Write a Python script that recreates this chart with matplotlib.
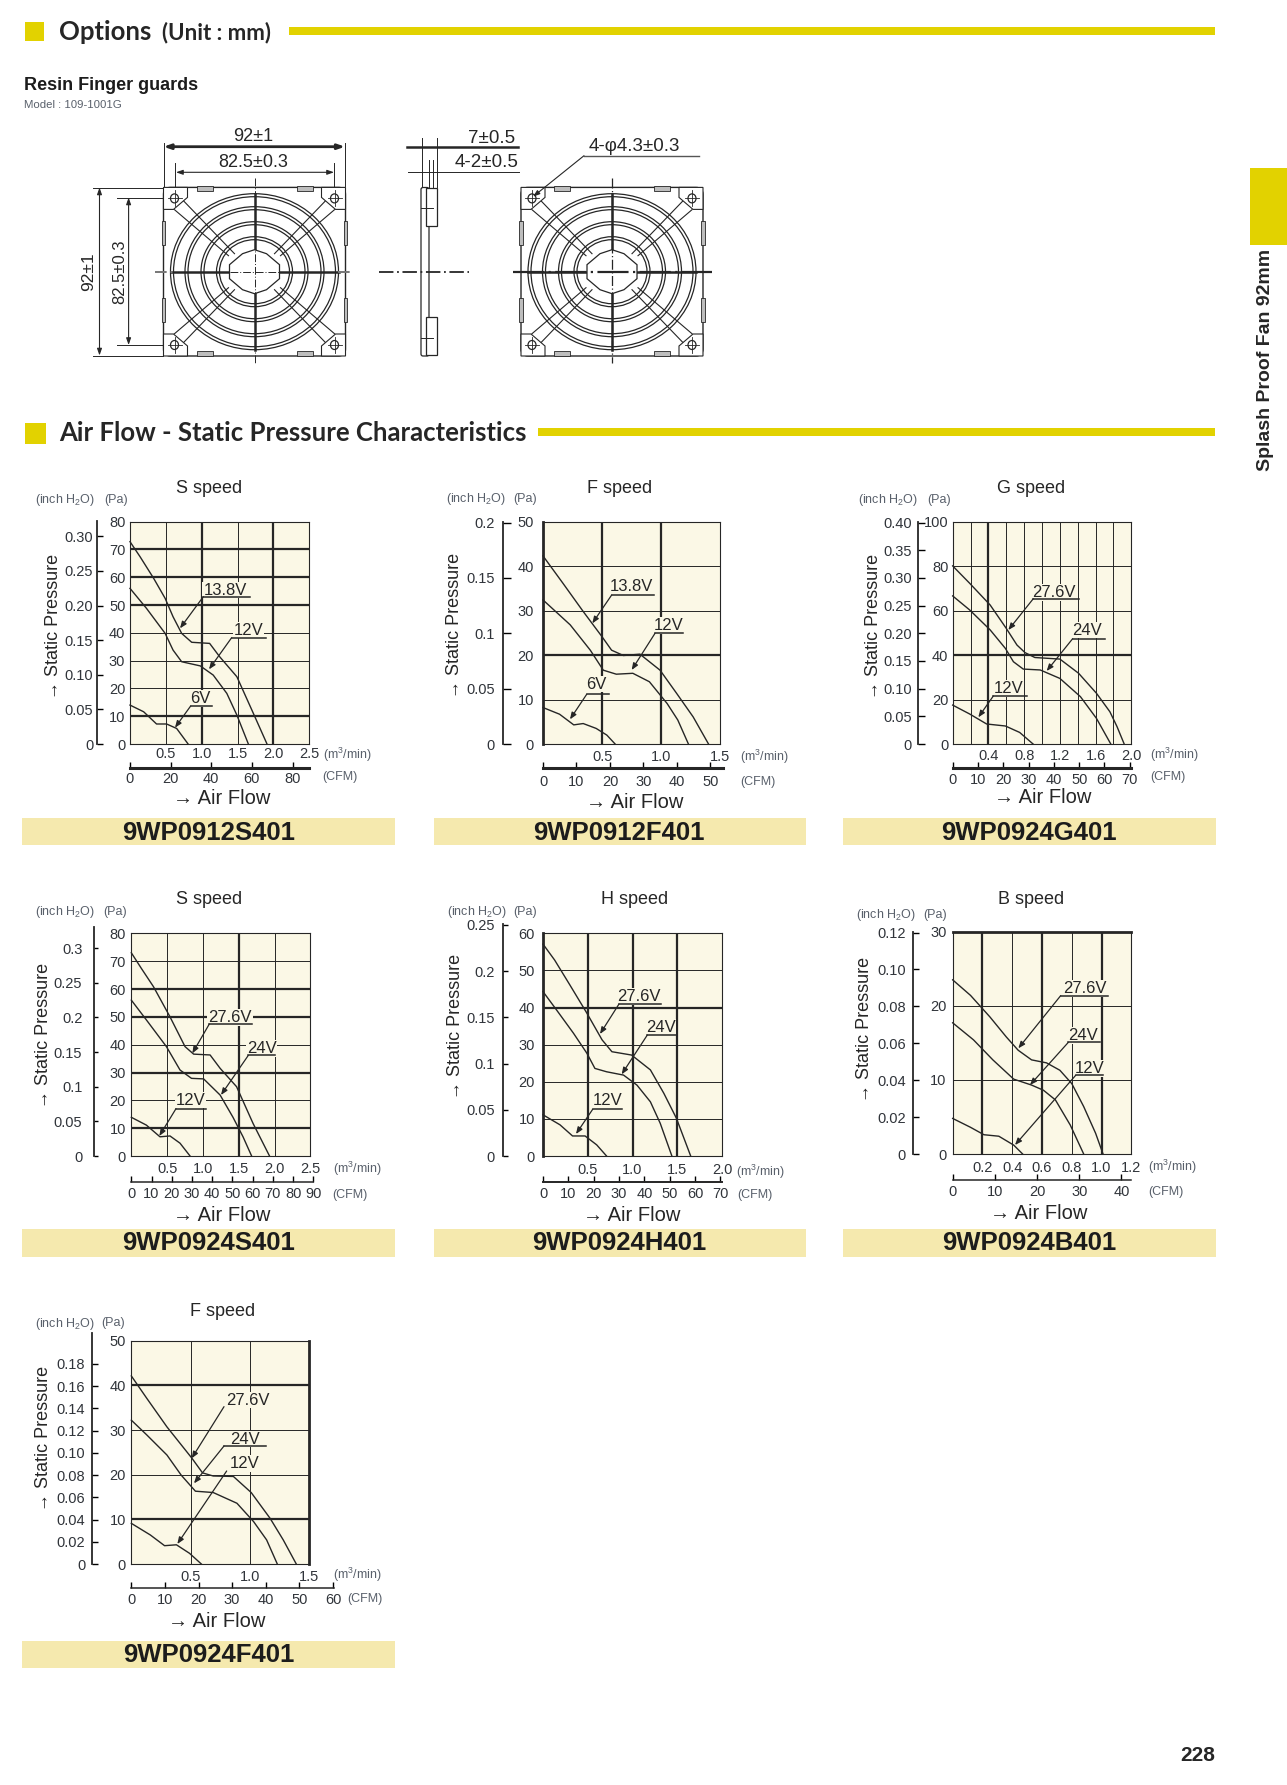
import matplotlib
matplotlib.use("Agg")
import matplotlib.pyplot as plt
from matplotlib.patches import Ellipse, FancyBboxPatch, Polygon, Rectangle

W, H = 1287, 1785
INK = "#262626"
GREY = "#59606b"
CREAM = "#fbf8e6"
YELLOW = "#e2d200"
BAND = "#f5e9ae"

# 9WP0912S401
S12_FLOW_HI = [0, .14, .33, .49, .60, .72, .86, 1.11, 1.25, 1.49, 1.72, 1.91]
S12_PA_HI = [72.8, 67.4, 59.6, 52.4, 45.8, 39.8, 36.6, 36.2, 31.4, 24.2, 11, 0]
S12_FLOW_MID = [0, .23, .49, .60, .72, .98, 1.16, 1.35, 1.49, 1.65]
S12_PA_MID = [56, 48.8, 39.8, 33.8, 29.6, 28.1, 24.8, 18.2, 10.4, 0]
S12_FLOW_LOW = [0, .19, .37, .51, .65, .81]
S12_PA_LOW = [14, 11.6, 7.2, 7.2, 5.6, 0]

# 9WP0912F401
F12_FLOW_HI = [0, .17, .34, .50, .58, .68, .82, .99, 1.13, 1.27, 1.40]
F12_PA_HI = [42.3, 36.1, 29.8, 24.1, 21.1, 19.9, 20.2, 16.6, 11.4, 6.1, 0]
F12_FLOW_MID = [0, .23, .40, .51, .62, .76, .90, 1.05, 1.14, 1.23]
F12_PA_MID = [32.4, 26.8, 21.1, 16.6, 15.7, 15.9, 14, 9.1, 5.4, 0]
F12_FLOW_LOW = [0, .14, .26, .34, .45, .54, .61]
F12_PA_LOW = [8.2, 6.7, 4.3, 4.6, 3.5, 2, 0]

# 9WP0924G401
G24_FLOW_HI = [0, .19, .42, .60, .72, .81, .92, 1.20, 1.41, 1.61, 1.76, 1.84, 1.92]
G24_PA_HI = [80.1, 72.3, 62.5, 52, 44.5, 41.1, 38.9, 38.2, 31.8, 22.8, 14.5, 7.8, 0]
G24_FLOW_MID = [0, .19, .42, .59, .68, .79, .98, 1.20, 1.43, 1.61, 1.77]
G24_PA_MID = [66.6, 60.3, 51.3, 43, 37, 33.7, 33.3, 29.5, 21.3, 11.5, 0]
G24_FLOW_LOW = [0, .19, .38, .59, .75, .90]
G24_PA_LOW = [17.5, 13.5, 9, 8.1, 5.2, 0]

# 9WP0924S401
S24_FLOW_HI = [0, .14, .31, .54, .75, .87, 1.10, 1.24, 1.47, 1.70, 1.93]
S24_PA_HI = [73, 67.4, 60.8, 50, 39.3, 36.6, 36.3, 31.5, 24.9, 11.7, 0]
S24_FLOW_MID = [0, .21, .49, .68, .84, 1.01, 1.24, 1.42, 1.56, 1.68]
S24_PA_MID = [56, 48.9, 39.3, 30.9, 27.9, 27.7, 21.9, 13.9, 6.9, 0]
S24_FLOW_LOW = [0, .21, .40, .54, .68, .82]
S24_PA_LOW = [13.9, 11.1, 6.9, 7.2, 4.6, 0]

# 9WP0924H401
H24_FLOW_HI = [0, .13, .30, .49, .66, .77, .99, 1.20, 1.35, 1.49, 1.65]
H24_PA_HI = [57.1, 52.8, 46.1, 38.5, 31.3, 28.1, 27.2, 23.2, 16.9, 10.2, 0]
H24_FLOW_MID = [0, .15, .34, .49, .58, .71, .90, 1.05, 1.20, 1.31, 1.44]
H24_PA_MID = [44.3, 39.4, 33.1, 27.7, 23.6, 22.7, 21.8, 19.1, 14.6, 8.8, 0]
H24_FLOW_LOW = [0, .19, .33, .47, .60, .71]
H24_PA_LOW = [11.1, 8.4, 5.4, 5.4, 3, 0]

# 9WP0924B401
B24_FLOW_HI = [0, .12, .25, .36, .44, .53, .63, .72, .80, .88, .96, 1.01]
B24_PA_HI = [23.5, 21.4, 18.5, 15.8, 14, 12.7, 12.3, 11.3, 9.5, 6.4, 2.8, 0]
B24_FLOW_MID = [0, .14, .27, .41, .53, .61, .69, .79, .88]
B24_PA_MID = [17.7, 15.4, 12.7, 10.1, 9.3, 8.6, 7.3, 3.9, 0]
B24_FLOW_LOW = [0, .12, .21, .31, .41, .47]
B24_PA_LOW = [4.8, 3.6, 2.6, 2.4, 1.2, 0]

# 9WP0924F401
F24_FLOW_HI = [0, .13, .30, .51, .60, .69, .86, 1.01, 1.17, 1.28, 1.39]
F24_PA_HI = [42.1, 37.1, 30.7, 23.7, 20.4, 19.7, 19.6, 16, 10.2, 5.4, 0]
F24_FLOW_MID = [0, .13, .30, .42, .54, .69, .89, 1.03, 1.14, 1.23]
F24_PA_MID = [32.2, 28.9, 24.4, 19.9, 16.3, 16, 13.6, 9.5, 5.4, 0]
F24_FLOW_LOW = [0, .16, .28, .38, .49, .59]
F24_PA_LOW = [9.1, 6.5, 4.1, 4.3, 2.4, 0]

# tick labels
INCH_30 = ["0", "0.05", "0.10", "0.15", "0.20", "0.25", "0.30"]
INCH_20 = ["0", "0.05", "0.1", "0.15", "0.2"]
INCH_40 = ["0", "0.05", "0.10", "0.15", "0.20", "0.25", "0.30", "0.35", "0.40"]
INCH_3 = ["0", "0.05", "0.1", "0.15", "0.2", "0.25", "0.3"]
INCH_25 = ["0", "0.05", "0.1", "0.15", "0.2", "0.25"]
INCH_12 = ["0", "0.02", "0.04", "0.06", "0.08", "0.10", "0.12"]
INCH_18 = ["0", "0.02", "0.04", "0.06", "0.08", "0.10", "0.12", "0.14", "0.16", "0.18"]

# ox/oy + numbers below: page pixels, numbers are given at 3x (as measured on crops)
PANELS = [
    dict(model="9WP0912S401", speed="S speed", ox=0, oy=460,
         box=(390, 185, 928, 852), xmax=2.5, ymax=80,
         curves=[(S12_FLOW_HI, S12_PA_HI), (S12_FLOW_MID, S12_PA_MID), (S12_FLOW_LOW, S12_PA_LOW)],
         xticks=[.5, 1, 1.5, 2, 2.5], xlabels=["0.5", "1.0", "1.5", "2.0", "2.5"],
         yticks=list(range(0, 81, 10)),
         gridx=[.5, 1, 1.5, 2], boldx=[1, 2], gridy=list(range(10, 80, 10)), boldy=[10, 50, 60, 70],
         inch=INCH_30, inch_step=.05, inch_x=290, inch_top=183, tick_len=18, inch_lab=280, pa_lab=376,
         m3_y=878, unit_x=968, m3_unit_y=886,
         cfm_y=925, cfm_r=928, cfm_lw=2.2, cfm=[0, 20, 40, 60, 80], cfm_lab=953, cfm_unit_x=968, cfm_unit_y=950,
         flow=(665, 1012), press=(150, 500), title=(628, 82), inch_t=(196, 120), pa_t=(349, 120),
         band=(66, 1185, 1075, 1155), model_xy=(625, 1115),
         notes=[("13.8V", 675, 390, 610, 750, 410, 540, 505),
                ("12V", 745, 510, 695, 798, 533, 627, 628),
                ("6V", 600, 715, 572, 635, 738, 525, 803)]),
    dict(model="9WP0912F401", speed="F speed", ox=420, oy=460,
         box=(369, 185, 901, 852), xmax=1.5, ymax=50,
         curves=[(F12_FLOW_HI, F12_PA_HI), (F12_FLOW_MID, F12_PA_MID), (F12_FLOW_LOW, F12_PA_LOW)],
         xticks=[.5, 1, 1.5], xlabels=["0.5", "1.0", "1.5"],
         yticks=list(range(0, 51, 10)),
         gridx=[.5, 1], boldx=[.5, 1], gridy=[10, 20, 30, 40], boldy=[20], bold_spine=["left"],
         inch=INCH_20, inch_step=.05, inch_x=248, inch_top=185, tick_len=24, inch_lab=225, pa_lab=342,
         m3_y=885, unit_x=960, m3_unit_y=892,
         cfm_y=925, cfm_r=908, cfm_lw=2.2, cfm=[0, 10, 20, 30, 40, 50], cfm_lab=960, cfm_unit_x=960, cfm_unit_y=965,
         flow=(645, 1025), press=(92, 495), title=(598, 82), inch_t=(168, 117), pa_t=(315, 117),
         band=(42, 1158, 1075, 1155), model_xy=(598, 1115),
         notes=[("13.8V", 635, 378, 575, 702, 405, 517, 490),
                ("12V", 747, 497, 705, 790, 520, 635, 630),
                ("6V", 528, 672, 500, 568, 703, 450, 778)]),
    dict(model="9WP0924G401", speed="G speed", ox=840, oy=460,
         box=(338, 185, 874, 852), xmax=2.0, ymax=100,
         curves=[(G24_FLOW_HI, G24_PA_HI), (G24_FLOW_MID, G24_PA_MID), (G24_FLOW_LOW, G24_PA_LOW)],
         xticks=[.4, .8, 1.2, 1.6, 2], xlabels=["0.4", "0.8", "1.2", "1.6", "2.0"],
         yticks=list(range(0, 101, 20)),
         gridx=[.2, .4, .6, .8, 1, 1.2, 1.4, 1.6, 1.8], boldx=[.4], gridy=[20, 40, 60, 80], boldy=[40],
         inch=INCH_40, inch_step=.05, inch_x=233, inch_top=185, tick_len=22, inch_lab=215, pa_lab=325,
         m3_y=882, unit_x=930, m3_unit_y=886,
         cfm_y=925, cfm_r=874, cfm_lw=2.2, cfm=[0, 10, 20, 30, 40, 50, 60, 70], cfm_lab=955, cfm_unit_x=930, cfm_unit_y=950,
         flow=(607, 1010), press=(90, 500), title=(572, 82), inch_t=(143, 120), pa_t=(296, 120),
         band=(9, 1128, 1075, 1155), model_xy=(568, 1115),
         notes=[("27.6V", 642, 397, 580, 716, 416, 505, 510),
                ("24V", 742, 510, 698, 795, 536, 620, 633),
                ("12V", 505, 685, 460, 560, 708, 415, 772)]),
    dict(model="9WP0924S401", speed="S speed", ox=0, oy=880,
         box=(394, 160, 931, 828), xmax=2.5, ymax=80,
         curves=[(S24_FLOW_HI, S24_PA_HI), (S24_FLOW_MID, S24_PA_MID), (S24_FLOW_LOW, S24_PA_LOW)],
         xticks=[.5, 1, 1.5, 2, 2.5], xlabels=["0.5", "1.0", "1.5", "2.0", "2.5"],
         yticks=list(range(0, 81, 10)),
         gridx=[.5, 1, 1.5, 2], boldx=[1.5], gridy=list(range(10, 80, 10)), boldy=[10, 30, 50, 60],
         inch=INCH_3, inch_step=.05, inch_x=281, inch_top=142, tick_len=12, inch_lab=247, pa_lab=378,
         m3_y=862, unit_x=998, m3_unit_y=866,
         cfm_y=905, cfm_r=940, cfm_lw=1.1, cfm=list(range(0, 91, 10)), cfm_lab=938, cfm_unit_x=998, cfm_unit_y=946,
         flow=(665, 1003), press=(120, 465), title=(628, 55), inch_t=(196, 97), pa_t=(344, 97),
         band=(66, 1185, 1047, 1130), model_xy=(625, 1086),
         notes=[("27.6V", 690, 412, 628, 755, 432, 577, 520),
                ("24V", 785, 505, 745, 826, 526, 663, 645),
                ("12V", 572, 660, 528, 618, 686, 478, 768)]),
    dict(model="9WP0924H401", speed="H speed", ox=420, oy=880,
         box=(369, 160, 906, 828), xmax=2.0, ymax=60,
         curves=[(H24_FLOW_HI, H24_PA_HI), (H24_FLOW_MID, H24_PA_MID), (H24_FLOW_LOW, H24_PA_LOW)],
         xticks=[.5, 1, 1.5, 2], xlabels=["0.5", "1.0", "1.5", "2.0"],
         yticks=list(range(0, 61, 10)),
         gridx=[.5, 1, 1.5], boldx=[.5, 1, 1.5], gridy=[10, 20, 30, 40, 50], boldy=[40], bold_spine=["left"],
         inch=INCH_25, inch_step=.05, inch_x=248, inch_top=133, tick_len=15, inch_lab=225, pa_lab=345,
         m3_y=866, unit_x=948, m3_unit_y=875,
         cfm_y=905, cfm_r=906, cfm_lw=1.4, cfm=list(range(0, 71, 10)), cfm_lab=938, cfm_unit_x=952, cfm_unit_y=946,
         flow=(635, 1003), press=(95, 440), title=(643, 55), inch_t=(170, 97), pa_t=(316, 97),
         band=(42, 1158, 1047, 1130), model_xy=(598, 1086),
         notes=[("27.6V", 658, 350, 597, 722, 372, 540, 462),
                ("24V", 722, 442, 682, 770, 465, 605, 583),
                ("12V", 563, 662, 518, 605, 688, 468, 762)]),
    dict(model="9WP0924B401", speed="B speed", ox=840, oy=880,
         box=(338, 155, 874, 822), xmax=1.2, ymax=30,
         curves=[(B24_FLOW_HI, B24_PA_HI), (B24_FLOW_MID, B24_PA_MID), (B24_FLOW_LOW, B24_PA_LOW)],
         xticks=[.2, .4, .6, .8, 1, 1.2], xlabels=["0.2", "0.4", "0.6", "0.8", "1.0", "1.2"],
         yticks=[0, 10, 20, 30],
         gridx=[.2, .4, .6, .8, 1], boldx=[.2, .6, 1], gridy=[10, 20], boldy=[], bold_spine=["top"],
         inch=INCH_12, inch_step=.02, inch_x=218, inch_top=155, tick_len=17, inch_lab=198, pa_lab=320,
         m3_y=858, unit_x=925, m3_unit_y=862,
         cfm_y=900, cfm_r=874, cfm_lw=1.1, cfm=[0, 10, 20, 30, 40], cfm_lab=930, cfm_unit_x=925, cfm_unit_y=935,
         flow=(595, 998), press=(62, 447), title=(572, 55), inch_t=(138, 105), pa_t=(286, 105),
         band=(9, 1128, 1047, 1130), model_xy=(568, 1086),
         notes=[("27.6V", 735, 325, 662, 805, 347, 535, 505),
                ("24V", 728, 467, 685, 780, 487, 570, 615),
                ("12V", 748, 566, 707, 790, 586, 525, 795)]),
    dict(model="9WP0924F401", speed="F speed", ox=0, oy=1290,
         box=(394, 152, 928, 822), xmax=1.5, ymax=50,
         curves=[(F24_FLOW_HI, F24_PA_HI), (F24_FLOW_MID, F24_PA_MID), (F24_FLOW_LOW, F24_PA_LOW)],
         xticks=[.5, 1, 1.5], xlabels=["0.5", "1.0", "1.5"],
         yticks=list(range(0, 51, 10)),
         gridx=[.5, 1], boldx=[], gridy=[10, 20, 30, 40], boldy=[10, 40], bold_spine=["right"],
         inch=INCH_18, inch_step=.02, inch_x=275, inch_top=130, tick_len=17, inch_lab=256, pa_lab=378,
         m3_y=855, unit_x=1000, m3_unit_y=855,
         cfm_y=895, cfm_r=1002, cfm_lw=1.1, cfm=list(range(0, 61, 10)), cfm_lab=925, cfm_unit_x=1043, cfm_unit_y=927,
         flow=(650, 992), press=(120, 445), title=(668, 60), inch_t=(196, 103), pa_t=(340, 100),
         band=(66, 1185, 1053, 1133), model_xy=(625, 1092),
         notes=[("27.6V", 745, 330, 672, 672, 350, 575, 505),
                ("24V", 735, 447, 672, 797, 468, 582, 580),
                ("12V", 733, 520, 680, 680, 543, 532, 762)]),
]

PA_PER_INCH = 249
CFM_PER_M3 = 35.31

plt.rcParams["font.family"] = ["Liberation Sans", "DejaVu Sans"]
plt.rcParams["mathtext.default"] = "regular"

fig = plt.figure(figsize=(W / 100, H / 100), dpi=100)
page = fig.add_axes([0, 0, 1, 1])
page.set_xlim(0, W)
page.set_ylim(H, 0)
page.axis("off")
page.set_zorder(5)


def rect(l, t, r, b):
    return [l / W, 1 - b / H, (r - l) / W, (b - t) / H]


def page_rect(l, t, r, b, color, **kw):
    page.add_patch(Rectangle((l, t), r - l, b - t, facecolor=color, edgecolor="none", **kw))


def draw_panel(p):
    ox, oy = p["ox"], p["oy"]
    sx = lambda v: ox + v / 3
    sy = lambda v: oy + v / 3
    l, t, r, b = p["box"]

    ax = fig.add_axes(rect(sx(l), sy(t), sx(r), sy(b)), facecolor=CREAM)
    ax.set_xlim(0, p["xmax"])
    ax.set_ylim(0, p["ymax"])
    for v in p["gridx"]:
        ax.axvline(v, color=INK, lw=1.6 if v in p["boldx"] else .7, zorder=1)
    for v in p["gridy"]:
        ax.axhline(v, color=INK, lw=1.6 if v in p["boldy"] else .7, zorder=1)
    for flow, pa in p["curves"]:
        ax.plot(flow, pa, color=INK, lw=1.0, zorder=2, clip_on=False)
    for s in ax.spines.values():
        s.set_linewidth(.8)
        s.set_color(INK)
    for s in p.get("bold_spine", []):
        ax.spines[s].set_linewidth(2.0)

    ax.set_xticks(p["xticks"], p["xlabels"])
    ax.set_yticks(p["yticks"], [str(v) for v in p["yticks"]])
    ax.tick_params(axis="x", length=0, labelsize=10.5, labelcolor="#30343a",
                   pad=(p["m3_y"] - b) / 3 * .72 - 3.8)
    ax.tick_params(axis="y", length=0, labelsize=10.5, labelcolor="#30343a",
                   pad=(l - p["pa_lab"]) / 3 * .72)

    # inch H2O scale, same height per Pa as the main box
    pa_top = p["ymax"] * (b - p["inch_top"]) / (b - t)
    inch_ax = fig.add_axes(rect(sx(p["inch_x"]), sy(p["inch_top"]), sx(p["inch_x"]) + .05, sy(b)),
                           facecolor="none")
    inch_ax.set_ylim(0, pa_top / PA_PER_INCH)
    inch_ax.set_xticks([])
    inch_ax.set_yticks([i * p["inch_step"] for i in range(len(p["inch"]))], p["inch"])
    for name in ("top", "right", "bottom"):
        inch_ax.spines[name].set_visible(False)
    inch_ax.spines["left"].set_linewidth(1.3)
    inch_ax.spines["left"].set_color(INK)
    inch_ax.tick_params(axis="y", direction="in", length=p["tick_len"] / 3 * .72, width=1.0,
                        labelsize=10.5, labelcolor="#30343a",
                        pad=(p["inch_x"] - p["inch_lab"]) / 3 * .72)

    # CFM scale under the box
    cfm_ax = fig.add_axes(rect(sx(l), sy(p["cfm_y"]) - .05, sx(p["cfm_r"]), sy(p["cfm_y"])),
                          facecolor="none")
    cfm_ax.set_xlim(0, p["xmax"] * CFM_PER_M3 * (p["cfm_r"] - l) / (r - l))
    cfm_ax.set_yticks([])
    cfm_ax.set_xticks(p["cfm"], [str(v) for v in p["cfm"]])
    for name in ("top", "right", "left"):
        cfm_ax.spines[name].set_visible(False)
    cfm_ax.spines["bottom"].set_linewidth(p["cfm_lw"])
    cfm_ax.spines["bottom"].set_color(INK)
    cfm_ax.tick_params(axis="x", direction="in", length=4, width=1.0, labelsize=10.5,
                       labelcolor="#30343a", pad=(p["cfm_lab"] - p["cfm_y"]) / 3 * .72 - 3.8)

    # page text
    page.text(sx(p["title"][0]), sy(p["title"][1]) + 1, p["speed"], fontsize=13, color=INK,
              ha="center", va="center")
    page.text(sx(p["inch_t"][0]), sy(p["inch_t"][1]), "(inch H$_2$O)", fontsize=9, color=GREY,
              ha="center", va="center")
    page.text(sx(p["pa_t"][0]), sy(p["pa_t"][1]), "(Pa)", fontsize=9, color=GREY,
              ha="center", va="center")
    page.text(sx(p["unit_x"]), sy(p["m3_unit_y"]), "(m$^3$/min)", fontsize=9, color=GREY,
              ha="left", va="center")
    page.text(sx(p["cfm_unit_x"]), sy(p["cfm_unit_y"]), "(CFM)", fontsize=9, color=GREY,
              ha="left", va="center")
    page.text(sx(p["flow"][0]), sy(p["flow"][1]) + 1, "→ Air Flow", fontsize=14.5, color=INK,
              ha="center", va="center")
    page.text(sx(p["press"][0]) + 3.5, sy(p["press"][1]), "→ Static Pressure", fontsize=13, color=INK,
              ha="center", va="center", rotation=90)

    bl, br, bt, bb = p["band"]
    page_rect(sx(bl), sy(bt), sx(br), sy(bb), BAND)
    page.text(sx(p["model_xy"][0]), sy(p["model_xy"][1]) + 1, p["model"], fontsize=18.5, weight="bold",
              color="#1c1c1c", ha="center", va="center")

    for label, tx, ty, x0, x1, ly, ax_x, ax_y in p["notes"]:
        page.text(sx(tx), sy(ty), label, fontsize=12, color=INK, ha="center", va="center", zorder=3,
                  bbox=dict(facecolor=CREAM, edgecolor="none", pad=.6))
        if x1 > x0:
            page.plot([sx(x0), sx(x1)], [sy(ly), sy(ly)], color=INK, lw=1.1, zorder=4)
        page.annotate("", xy=(sx(ax_x), sy(ax_y)), xytext=(sx(x0), sy(ly)), zorder=4,
                      arrowprops=dict(arrowstyle="-|>,head_width=.16,head_length=.4", color=INK,
                                      lw=.9, shrinkA=0, shrinkB=0))


def draw_guard(cx, cy, hw, hh):
    page.add_patch(FancyBboxPatch((cx - hw + 5, cy - hh + 5), 2 * hw - 10, 2 * hh - 10,
                                  boxstyle="round,pad=5,rounding_size=7",
                                  facecolor="white", edgecolor=INK, lw=1.0, zorder=1))
    rings = [(84, 78), (69.5, 65), (53.5, 50), (38, 35)]
    for rx, ry in rings:
        page.add_patch(Ellipse((cx, cy), 2 * rx, 2 * ry, facecolor="none", edgecolor=INK, lw=.9, zorder=2))
        page.add_patch(Ellipse((cx, cy), 2 * rx - 6, 2 * ry - 6, facecolor="none", edgecolor=INK, lw=.9, zorder=2))
    # diagonal struts, pairs crossing the rings
    for sx_ in (-1, 1):
        for sy_ in (-1, 1):
            page.plot([cx + sx_ * 74, cx + sx_ * 20], [cy + sy_ * 74, cy + sy_ * 18], color=INK, lw=.8, zorder=2)
            page.plot([cx + sx_ * 80, cx + sx_ * 26], [cy + sy_ * 62, cy + sy_ * 16], color=INK, lw=.8, zorder=2)
    page.plot([cx - 84, cx + 84], [cy, cy], color=INK, lw=1.8, zorder=2)
    page.plot([cx, cx], [cy - 78, cy + 78], color=INK, lw=1.8, zorder=2)
    hole = [(-25, -7), (-12, -18), (0, -22), (12, -18), (25, -7), (25, 7), (12, 18), (0, 22), (-12, 18), (-25, 7)]
    page.add_patch(Polygon([(cx + dx, cy + dy) for dx, dy in hole], closed=True, facecolor="white",
                           edgecolor=INK, lw=.9, zorder=3))

    for sx_ in (-1, 1):
        for sy_ in (-1, 1):
            px, py = cx + sx_ * hw, cy + sy_ * hh
            pad = [(px, py), (px - sx_ * 24, py), (px - sx_ * 24, py - sy_ * 10),
                   (px - sx_ * 10, py - sy_ * 22), (px, py - sy_ * 22)]
            page.add_patch(Polygon(pad, closed=True, facecolor="white", edgecolor=INK, lw=.8, zorder=3))
            hx, hy = px - sx_ * 11, py - sy_ * 11
            page.add_patch(Ellipse((hx, hy), 8, 9, facecolor="white", edgecolor=INK, lw=.9, zorder=4))
            page.plot([hx - 7, hx + 7], [hy, hy], color=INK, lw=.6, zorder=4)
            page.plot([hx, hx], [hy - 8, hy + 8], color=INK, lw=.6, zorder=4)
            # small tabs on the rim
            page.add_patch(Rectangle((px - sx_ * 41 - 8, py - 3.5 + sy_ * -2), 16, 5.5, facecolor="#bdbdbd",
                                     edgecolor=INK, lw=.6, zorder=4))
            page.add_patch(Rectangle((px - 2, py - sy_ * 46 - 12), 3.5, 24, facecolor="#bdbdbd",
                                     edgecolor=INK, lw=.6, zorder=4))


def dim_arrow(x0, y0, x1, y1, lw=1.0):
    page.annotate("", xy=(x1, y1), xytext=(x0, y0),
                  arrowprops=dict(arrowstyle="<|-|>,head_width=.14,head_length=.4", color=INK, lw=lw,
                                  shrinkA=0, shrinkB=0))


def seg(x0, y0, x1, y1, lw=.7, **kw):
    page.plot([x0, x1], [y0, y1], color=kw.pop("color", INK), lw=lw, **kw)


def draw_options():
    cy = 271.7
    draw_guard(254.5, cy, 91, 84.3)
    draw_guard(612, cy, 91, 84.3)

    # left guard centre lines
    seg(155, cy, 176, cy, lw=1.4, color="#777777", linestyle=(0, (6, 2, 1, 2)))
    seg(338, cy, 353, cy, lw=1.4, color="#777777", linestyle=(0, (6, 2, 1, 2)))
    seg(255, 178, 255, 363, lw=.7, linestyle=(0, (8, 2, 1, 2)), zorder=5)
    seg(230, cy, 280, cy, lw=.7, linestyle=(0, (8, 2, 1, 2)), zorder=5)
    # right guard centre lines
    seg(513, cy, 712, cy, lw=1.6, zorder=5, linestyle=(0, (14, 2, 1, 2)))
    seg(612, 178, 612, 363, lw=.9, zorder=5, linestyle=(0, (8, 2, 1, 2)))

    # side view
    page.add_patch(FancyBboxPatch((421, 187.5), 8, 168.5, boxstyle="round,pad=0,rounding_size=2",
                                  facecolor="white", edgecolor=INK, lw=.9, zorder=2))
    page.add_patch(Rectangle((426, 188), 11, 38, facecolor="white", edgecolor=INK, lw=.9, zorder=3))
    page.add_patch(Rectangle((426, 317), 11, 38, facecolor="white", edgecolor=INK, lw=.9, zorder=3))
    seg(421, 208, 433, 208, zorder=4)
    seg(421, 338, 433, 338, zorder=4)
    seg(379, cy, 469, cy, lw=1.3, linestyle=(0, (8, 2, 1, 2)), zorder=5)

    # dimensions
    dim_arrow(163.5, 146.7, 345, 146.7, lw=2.0)
    seg(163.5, 143, 163.5, 186)
    seg(345, 143, 345, 186)
    dim_arrow(176, 172.3, 334, 172.3, lw=.8)
    seg(174.5, 163, 174.5, 192)
    seg(334, 163, 334, 192)
    page.text(253.6, 136.7, "92±1", fontsize=13, color=INK, ha="center", va="center")
    page.text(253.6, 162.7, "82.5±0.3", fontsize=13, color=INK, ha="center", va="center")

    dim_arrow(99.5, 187.5, 99.5, 355.5, lw=.8)
    seg(93, 187.5, 163, 187.5)
    seg(93, 355.5, 163, 355.5)
    dim_arrow(128.6, 197.5, 128.6, 345, lw=.8)
    seg(117, 197.5, 165, 197.5)
    seg(117, 345, 165, 345)
    page.text(88.5, cy, "92±1", fontsize=12.5, color=INK, ha="center", va="center", rotation=90)
    page.text(120, cy, "82.5±0.3", fontsize=12, color=INK, ha="center", va="center", rotation=90)

    seg(406.5, 147, 518, 147, lw=1.8)
    seg(421.5, 138, 421.5, 187)
    seg(437, 138, 437, 187)
    seg(408, 172, 519, 172, lw=.7)
    seg(428.5, 160, 428.5, 187)
    seg(433, 160, 433, 187)
    page.text(492, 138, "7±0.5", fontsize=13.5, color=INK, ha="center", va="center")
    page.text(487, 162.7, "4-2±0.5", fontsize=13.5, color=INK, ha="center", va="center")

    page.text(634, 146.7, "4-φ4.3±0.3", fontsize=13.5, color=INK, ha="center", va="center")
    seg(584, 155.7, 699, 155.7, lw=1.0, color="#555555")
    page.annotate("", xy=(533, 196.7), xytext=(584, 155.7), zorder=6,
                  arrowprops=dict(arrowstyle="-|>,head_width=.14,head_length=.4", color=INK, lw=.8,
                                  shrinkA=0, shrinkB=0))


def draw_page():
    # headings
    page_rect(24.5, 21.7, 44.4, 41, YELLOW)
    page_rect(289, 26.7, 1215, 35, YELLOW)
    page.text(59, 31.5, "Options", family=["Lato", "DejaVu Sans"], weight="bold", fontsize=18.5,
              color=INK, ha="left", va="center")
    page.text(162, 32.5, "(Unit : mm)", family=["Lato", "DejaVu Sans"], weight="bold", fontsize=16,
              color=INK, ha="left", va="center")
    page_rect(25, 423, 45.5, 444, YELLOW)
    page_rect(538, 428, 1215, 436, YELLOW)
    page.text(59, 433, "Air Flow - Static Pressure Characteristics", family=["Lato", "DejaVu Sans"],
              weight="bold", fontsize=18.5, color=INK, ha="left", va="center")

    page.text(24, 85, "Resin Finger guards", weight="bold", fontsize=13, color="#1c1c1c",
              ha="left", va="center")
    page.text(24, 105, "Model : 109-1001G", fontsize=8.2, color=GREY, ha="left", va="center")

    # side tab and page number
    page_rect(1249.5, 168, 1287, 245, YELLOW)
    page.text(1266, 360, "Splash Proof Fan 92mm", weight="bold", fontsize=14, color=INK,
              ha="center", va="center", rotation=90)
    page.text(1215, 1755, "228", weight="bold", fontsize=15, color=INK, ha="right", va="center")


draw_page()
draw_options()
for panel in PANELS:
    draw_panel(panel)

fig.savefig("out.png", dpi=100, facecolor="white")
